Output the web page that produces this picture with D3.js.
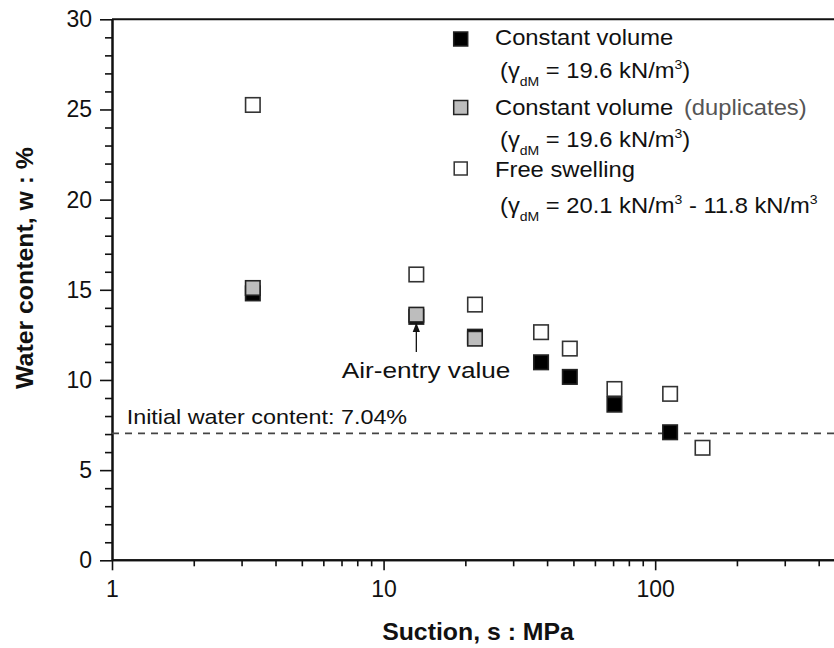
<!DOCTYPE html>
<html>
<head>
<meta charset="utf-8">
<script src="https://cdn.jsdelivr.net/npm/d3@7"></script>
<style>
  html, body { margin: 0; padding: 0; background: #fff; }
  svg { display: block; }
  text { font-family: "Liberation Sans", Arial, Helvetica, sans-serif; fill: #111; }
</style>
</head>
<body>
<svg id="chart" width="834" height="648"></svg>
<script>
// ---- Data ----
const cvSuction   = [3.3, 13.2, 21.7, 38.0, 48.5, 70.8, 113.5];
const cvWater     = [14.8, 13.5, 12.4, 10.98, 10.17, 8.63, 7.1];
const dupSuction  = [3.3, 13.2, 21.7];
const dupWater    = [15.1, 13.62, 12.29];
const fsSuction   = [3.3, 13.2, 21.7, 38.0, 48.5, 70.8, 113.5, 149.4];
const fsWater     = [25.25, 15.85, 14.18, 12.65, 11.74, 9.5, 9.23, 6.24];
const initialWater = 7.04;
const airEntrySuction = 13.2;
const airEntryWater = 13.62;
const airEntryTail = 11.55;
const xMajorTicks = [1, 10, 100];
const xMinorTicks = [2,3,4,5,6,7,8,9,20,30,40,50,60,70,80,90,200,300,400];
const yMajorTicks = [0, 5, 10, 15, 20, 25, 30];
const yMinorTicks = d3.range(0, 31).filter(v => v % 5 !== 0);

(function () {
// ---- Layout ----
const svg = d3.select("#chart");
const pLeft = 112, pRight = 845, pTop = 19.3, pBottom = 560.3;
const x = d3.scaleLog().domain([1, 500]).range([pLeft, pRight]);
const y = d3.scaleLinear().domain([0, 30]).range([pBottom, pTop]);

const defs = svg.append("defs");
defs.append("clipPath").attr("id", "plotclip")
  .append("rect").attr("x", pLeft).attr("y", pTop - 10).attr("width", 834 - pLeft).attr("height", pBottom - pTop + 20);
defs.append("marker").attr("id", "arrow").attr("viewBox", "0 0 10 10")
  .attr("refX", 9).attr("refY", 5).attr("markerWidth", 7).attr("markerHeight", 7)
  .attr("orient", "auto")
  .append("path").attr("d", "M0,1 L10,5 L0,9 Z").attr("fill", "#111");

// top frame line
svg.append("line").attr("x1", pLeft).attr("x2", 834).attr("y1", pTop).attr("y2", pTop)
  .attr("stroke", "#111").attr("stroke-width", 2);

// x axis
const xAxisMinor = svg.append("g").attr("transform", `translate(0,${pBottom})`)
  .call(d3.axisBottom(x).tickValues(xMinorTicks).tickSize(6).tickSizeOuter(0).tickFormat(""));
const xAxis = svg.append("g").attr("transform", `translate(0,${pBottom})`)
  .call(d3.axisBottom(x).tickValues(xMajorTicks).tickSize(10).tickSizeOuter(0).tickPadding(10)
    .tickFormat(d3.format("d")));
[xAxisMinor, xAxis].forEach(g => {
  g.select(".domain").attr("stroke", "#111").attr("stroke-width", 2)
    .attr("d", `M${pLeft},0H834`);
  g.selectAll(".tick line").attr("stroke", "#111").attr("stroke-width", 1.6);
});
xAxis.selectAll(".tick text").attr("font-size", 23).style("fill", "#111");

// y axis
const yAxisMinor = svg.append("g").attr("transform", `translate(${pLeft},0)`)
  .call(d3.axisLeft(y).tickValues(yMinorTicks).tickSize(7).tickSizeOuter(0).tickFormat(""));
const yAxis = svg.append("g").attr("transform", `translate(${pLeft},0)`)
  .call(d3.axisLeft(y).tickValues(yMajorTicks).tickSize(12).tickSizeOuter(0).tickPadding(8));
[yAxisMinor, yAxis].forEach(g => {
  g.select(".domain").attr("stroke", "#111").attr("stroke-width", 2);
  g.selectAll(".tick line").attr("stroke", "#111").attr("stroke-width", 1.6);
});
yAxis.selectAll(".tick text").attr("font-size", 23).style("fill", "#111");

// axis titles
svg.append("text").attr("transform", `translate(478,640) scale(1.08,1)`)
  .attr("text-anchor", "middle").attr("font-size", 23).attr("font-weight", "bold")
  .text("Suction, s : MPa");
svg.append("text").attr("transform", `translate(33,268) rotate(-90) scale(1.08,1)`)
  .attr("text-anchor", "middle").attr("font-size", 23).attr("font-weight", "bold")
  .text("Water content, w : %");

// initial water content line
const plot = svg.append("g").attr("clip-path", "url(#plotclip)");
plot.append("line").attr("x1", pLeft).attr("x2", 834)
  .attr("y1", y(initialWater)).attr("y2", y(initialWater))
  .attr("stroke", "#444").attr("stroke-width", 1.6).attr("stroke-dasharray", "7,6");
svg.append("text").attr("transform", `translate(126.7,424) scale(1.14,1)`)
  .attr("font-size", 20.5).text("Initial water content: " + initialWater.toFixed(2) + "%");

// markers
const S = 16;
function squares(xs, ys, fill, stroke, size) {
  plot.append("g").selectAll("rect").data(xs.map((v, i) => [v, ys[i]])).join("rect")
    .attr("x", d => x(d[0]) - size / 2).attr("y", d => y(d[1]) - size / 2)
    .attr("width", size).attr("height", size)
    .attr("fill", fill).attr("stroke", stroke).attr("stroke-width", 1.6);
}
squares(fsSuction, fsWater, "#fff", "#333", S - 1.5);
squares(cvSuction, cvWater, "#000", "#222", S - 1.5);
squares(dupSuction, dupWater, "#bdbdbd", "#222", S - 1.5);

// air-entry annotation
svg.append("line")
  .attr("x1", x(airEntrySuction)).attr("x2", x(airEntrySuction))
  .attr("y1", y(airEntryTail)).attr("y2", y(airEntryWater) + S / 2 + 1)
  .attr("stroke", "#111").attr("stroke-width", 1.3).attr("marker-end", "url(#arrow)");
svg.append("text").attr("transform", `translate(341.7,378) scale(1.19,1)`)
  .attr("font-size", 22).text("Air-entry value");

// legend
const lg = svg.append("g");
const legendMarkers = [
  {y: 39, fill: "#000", stroke: "#222", size: 14},
  {y: 107.5, fill: "#bdbdbd", stroke: "#222", size: 14},
  {y: 168.5, fill: "#fff", stroke: "#333", size: 13}
];
legendMarkers.forEach(m => {
  lg.append("rect").attr("x", 460.7 - m.size / 2).attr("y", m.y - m.size / 2)
    .attr("width", m.size).attr("height", m.size)
    .attr("fill", m.fill).attr("stroke", m.stroke).attr("stroke-width", 1.5);
});
function ltext(xp, yp) {
  return lg.append("text").attr("transform", `translate(${xp},${yp}) scale(1.08,1)`).attr("font-size", 22);
}
ltext(495, 45).text("Constant volume");
// parts: {text, shift} with shift = vertical offset from the main baseline
function gammaLine(yp, parts) {
  const t = ltext(500, yp);
  let cur = 0;
  const all = [{text: "(\u03b3", shift: 0}, {text: "dM", shift: 8, small: true}].concat(parts);
  all.forEach(p => {
    const ts = t.append("tspan").attr("dy", p.shift - cur).text(p.text);
    if (p.small) ts.attr("font-size", 13);
    cur = p.shift;
  });
}
const sup = txt => ({text: txt, shift: -9, small: true});
gammaLine(78.3, [{text: " = 19.6 kN/m", shift: 0}, sup("3"), {text: ")", shift: 0}]);
const dupText = ltext(495, 115);
dupText.append("tspan").text("Constant volume");
dupText.append("tspan").attr("dx", 10).style("fill", "#555").text("(duplicates)");
gammaLine(146.7, [{text: " = 19.6 kN/m", shift: 0}, sup("3"), {text: ")", shift: 0}]);
ltext(495, 176.7).text("Free swelling");
gammaLine(213, [{text: " = 20.1 kN/m", shift: 0}, sup("3"), {text: " - 11.8 kN/m", shift: 0}, sup("3")]);
})();
</script>
</body>
</html>
